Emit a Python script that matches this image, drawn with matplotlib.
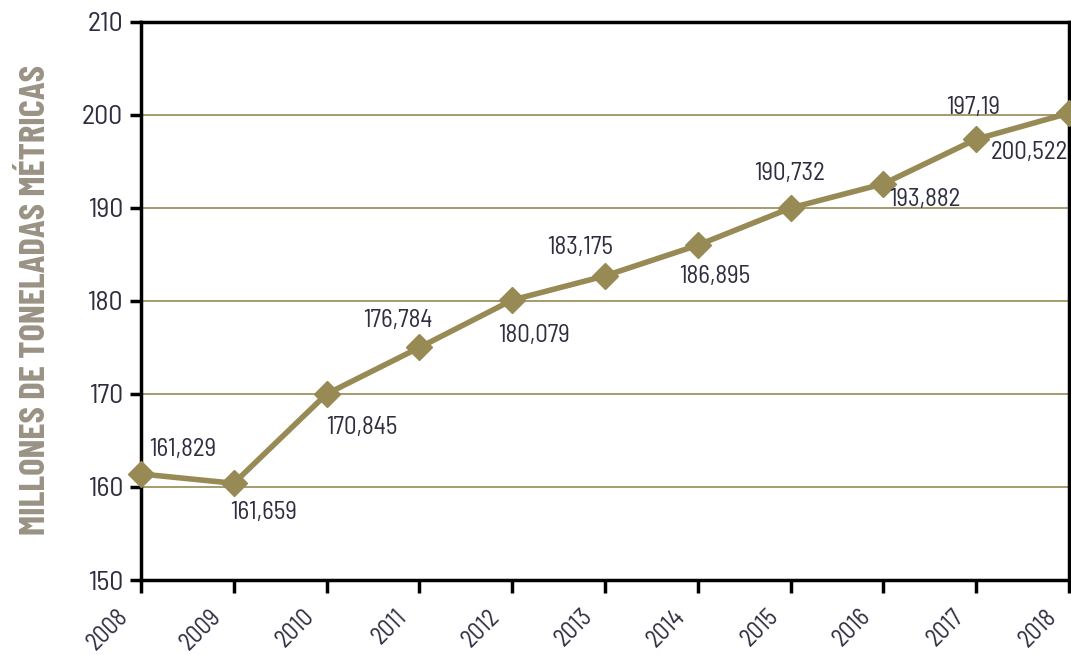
import matplotlib
matplotlib.use("Agg")
import matplotlib.pyplot as plt

years = [2008, 2009, 2010, 2011, 2012, 2013, 2014, 2015, 2016, 2017, 2018]
values = [161.4, 160.4, 170.0, 175.0, 180.1, 182.7, 186.0, 190.0, 192.6, 197.4, 200.2]
labels = ["161,829", "161,659", "170,845", "176,784", "180,079", "183,175",
          "186,895", "190,732", "193,882", "197,19", "200,522"]
# label offsets in pixels (dx, dy) from the point to the label centre
offsets = [(42, 24), (30, -29), (35, -34), (-22, 27), (22, -35), (-25, 28),
           (17, -31), (-1, 34), (41, -16), (-3, 32), (-40, -39)]
yticks = [150, 160, 170, 180, 190, 200, 210]

FONT = ["Barlow Semi Condensed", "DejaVu Sans"]
plt.rcParams['font.family'] = FONT
olive = "#978a55"
txt = "#2e2e40"

fig = plt.figure(figsize=(10.71, 6.55), dpi=100)
ax = fig.add_axes([141/1071, 1-580/655, (1069-141)/1071, (580-22)/655])

ax.set_ylim(150, 210)
ax.set_xlim(2008, 2018)
ax.set_yticks(yticks)
ax.set_xticks(years)
ax.set_xticklabels([])
for yr in years:
    ax.annotate(str(yr), (yr, 0), xycoords=("data", "axes fraction"),
                xytext=(-16, -33), textcoords="offset pixels",
                rotation=45, rotation_mode="anchor", ha="right", va="center",
                fontsize=17.5, color=txt, annotation_clip=False)
ax.tick_params(axis="y", labelsize=20, labelcolor=txt, direction="out", length=8, width=2.5, pad=5)
ax.tick_params(axis="x", direction="out", length=9, width=2.5, pad=4)
for sp in ax.spines.values():
    sp.set_linewidth(2.5)
    sp.set_color("black")
for y in yticks[1:-1]:
    ax.axhline(y, color=olive, lw=1.2, zorder=1)

ax.plot(years, values, color=olive, lw=4, marker="D", markersize=13, zorder=3, clip_on=False)
for x, v, lab, (dx, dy) in zip(years, values, labels, offsets):
    ax.annotate(lab, (x, v), xytext=(dx, dy), textcoords="offset pixels",
                ha="center", va="center", fontsize=18, color=txt)

fig.text(36/1071, 1-300/655, "MILLONES DE TONELADAS MÉTRICAS", rotation=90,
         ha="center", va="center", fontsize=26.5, fontweight="bold", color="#9a9284",
         family=["Barlow Condensed", "DejaVu Sans"])

fig.savefig("out.png", dpi=100)
